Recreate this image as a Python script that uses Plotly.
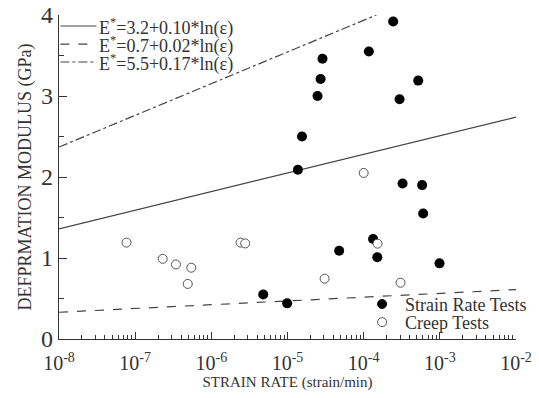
import plotly.graph_objects as go

# Strain rate tests (filled)
sr_x = [2.44e-4, 1.17e-4, 2.88e-5, 2.72e-5, 2.48e-5, 5.2e-4, 2.96e-4, 1.55e-5, 1.37e-5,
        3.24e-4, 5.86e-4, 6.04e-4, 1.33e-4, 4.77e-5, 1.51e-4, 9.9e-4, 9.9e-6, 4.8e-6]
sr_y = [3.92, 3.55, 3.46, 3.21, 3.00, 3.19, 2.96, 2.50, 2.09,
        1.92, 1.90, 1.55, 1.235, 1.09, 1.01, 0.934, 0.44, 0.55]

# Creep tests (open)
cr_x = [1.0e-4, 1.52e-4, 3.07e-5, 3.05e-4, 7.7e-8, 2.3e-7, 3.43e-7, 5.45e-7, 4.9e-7, 2.42e-6, 2.78e-6]
cr_y = [2.05, 1.177, 0.745, 0.695, 1.19, 0.99, 0.92, 0.88, 0.68, 1.19, 1.18]

# Fit lines (endpoints)
l1_x = [1e-8, 1e-2]; l1_y = [1.36, 2.74]
l2_x = [1e-8, 1e-2]; l2_y = [0.33, 0.61]
l3_x = [1e-8, 1.47e-4]; l3_y = [2.37, 4.0]

fit_labels = ["E<sup>*</sup>=3.2+0.10*ln(\u03b5)",
              "E<sup>*</sup>=0.7+0.02*ln(\u03b5)",
              "E<sup>*</sup>=5.5+0.17*ln(\u03b5)"]
fit_dash = ["solid", "dash", "dashdot"]
marker_labels = ["Strain Rate Tests", "Creep Tests"]

xt_vals = [1e-8, 1e-7, 1e-6, 1e-5, 1e-4, 1e-3, 1e-2]
xt_text = ["10<sup>-8</sup>", "10<sup>-7</sup>", "10<sup>-6</sup>", "10<sup>-5</sup>",
           "10<sup>-4</sup>", "10<sup>-3</sup>", "10<sup>-2</sup>"]

FONT = "Liberation Serif"
C = "#333333"
LC = "#444444"

fig = go.Figure()
for lx, ly, d in [(l1_x, l1_y, fit_dash[0]), (l2_x, l2_y, fit_dash[1]), (l3_x, l3_y, fit_dash[2])]:
    fig.add_trace(go.Scatter(x=lx, y=ly, mode="lines", showlegend=False,
                             line=dict(color=LC, width=1.2, dash=d)))
fig.add_trace(go.Scatter(x=sr_x, y=sr_y, mode="markers", showlegend=False,
                         marker=dict(color="black", size=10, symbol="circle")))
fig.add_trace(go.Scatter(x=cr_x, y=cr_y, mode="markers", showlegend=False,
                         marker=dict(color="white", size=9, symbol="circle",
                                     line=dict(color="#555", width=1))))

# ---- manual legend (top-left): line keys + labels
leg_rows = [0.966, 0.910, 0.855]
for yr, lab, d in zip(leg_rows, fit_labels, fit_dash):
    fig.add_shape(type="line", xref="paper", yref="paper", x0=0.003, x1=0.082, y0=yr, y1=yr,
                  line=dict(color=LC, width=1.2, dash=d))
    fig.add_annotation(xref="paper", yref="paper", x=0.085, y=yr - 0.004, text=lab,
                       showarrow=False, xanchor="left", yanchor="middle", borderpad=0,
                       font=dict(family=FONT, size=18, color=C))

# ---- manual legend (bottom-right): marker keys + labels
leg2_rows = [0.108, 0.052]
fills = ["black", "white"]
for yr, lab, f in zip(leg2_rows, marker_labels, fills):
    fig.add_shape(type="circle", xref="paper", yref="paper", xsizemode="pixel", ysizemode="pixel",
                  xanchor=0.707, yanchor=yr, x0=-4.5, x1=4.5, y0=-4.5, y1=4.5,
                  fillcolor=f, line=dict(color="black" if f == "black" else "#555", width=1))
    fig.add_annotation(xref="paper", yref="paper", x=0.755, y=yr - 0.004, text=lab,
                       showarrow=False, xanchor="left", yanchor="middle", borderpad=0,
                       font=dict(family=FONT, size=18, color=C))

fig.update_layout(
    width=539, height=398,
    margin=dict(l=59, r=23, t=15, b=59, autoexpand=False),
    paper_bgcolor="white", plot_bgcolor="white",
    font=dict(family=FONT, color=C),
    showlegend=False,
)
fig.update_xaxes(type="log", range=[-8, -2], showgrid=False, zeroline=False, automargin=False,
                 showline=True, linecolor=C, linewidth=1.2,
                 ticks="inside", ticklen=7, tickcolor=C,
                 tickvals=xt_vals, ticktext=xt_text, tickfont=dict(size=20, family=FONT, color=C),
                 ticklabelstandoff=6,
                 minor=dict(ticks="inside", ticklen=4, tickcolor=C, dtick="D1", showgrid=False),
                 title=dict(text="STRAIN RATE (strain/min)", font=dict(size=15, family=FONT, color=C),
                            standoff=2))
fig.update_yaxes(range=[0, 4], showgrid=False, zeroline=False, automargin=False,
                 showline=True, linecolor=C, linewidth=1.2,
                 ticks="inside", ticklen=8, tickcolor=C, dtick=1,
                 tickfont=dict(size=24, family=FONT, color=C),
                 minor=dict(ticks="inside", ticklen=5, tickcolor=C, dtick=0.5, showgrid=False),
                 title=dict(text="DEFPRMATION MODULUS (GPa)", font=dict(size=18, family=FONT, color=C),
                            standoff=4))

fig.write_html("out.html")
